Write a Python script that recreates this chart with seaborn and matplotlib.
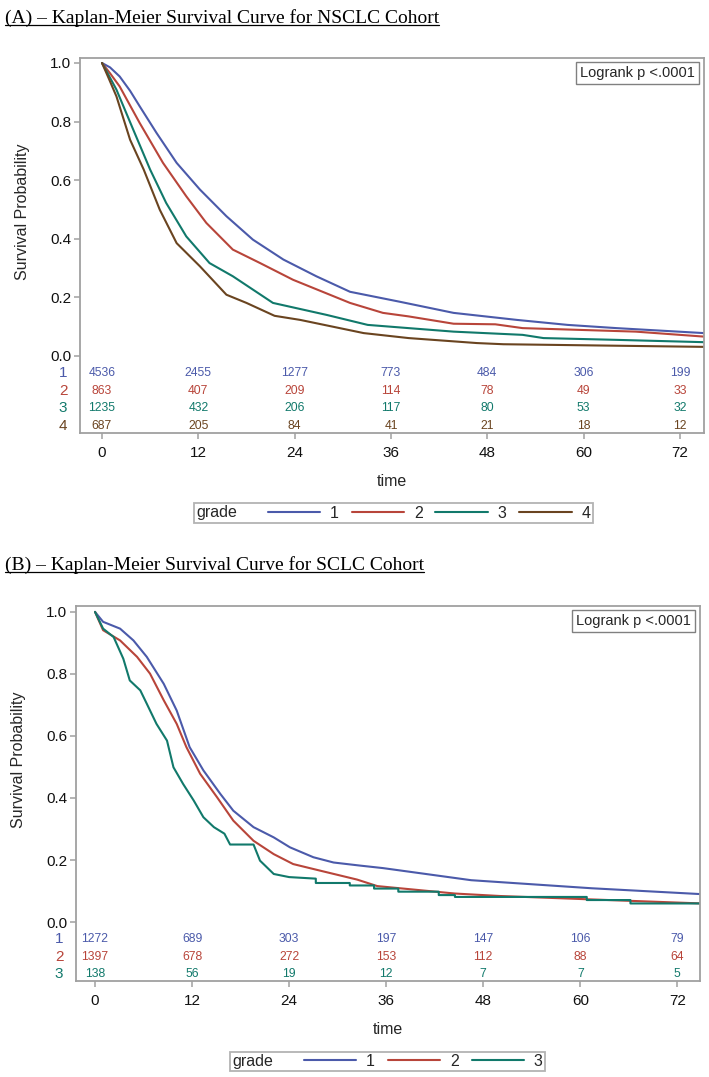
"""
Kaplan-Meier survival curves by grade for the NSCLC (A) and SCLC (B) cohorts,
with number-at-risk table inside the plot frame (SAS-style layout).
"""

import numpy as np
import pandas as pd
import matplotlib
matplotlib.use("Agg")
import matplotlib.pyplot as plt
import matplotlib.transforms as mtransforms
import seaborn as sns
from matplotlib.lines import Line2D
from matplotlib.offsetbox import HPacker

# ── Data ─────────────────────────────────────────────────────────────────────

RISK_TIMES = [0, 12, 24, 36, 48, 60, 72]

# Panel A – NSCLC
A_GRADES = ["1", "2", "3", "4"]

A_G1_TIME = [0, 1.0, 2.2, 3.5, 4.7, 6.8, 9.3, 12.2, 15.5, 18.8, 22.6, 26.7, 30.9, 37.1, 43.8, 51.7, 58.0, 64.1, 75.0]
A_G1_SURV = [1.0, 0.985, 0.954, 0.905, 0.852, 0.761, 0.659, 0.568, 0.477, 0.397, 0.329, 0.272, 0.219, 0.185, 0.147, 0.123, 0.106, 0.095, 0.078]

A_G2_TIME = [0, 1.0, 2.2, 4.7, 7.6, 10.5, 13.0, 16.3, 19.7, 23.8, 30.9, 35.0, 38.2, 43.8, 49.0, 52.4, 66.5, 75.0]
A_G2_SURV = [1.0, 0.965, 0.920, 0.795, 0.659, 0.545, 0.454, 0.363, 0.317, 0.260, 0.181, 0.147, 0.135, 0.110, 0.108, 0.095, 0.083, 0.066]

A_G3_TIME = [0, 0.8, 1.8, 3.9, 6.0, 8.0, 10.5, 13.4, 16.3, 21.3, 28.0, 33.1, 38.2, 43.8, 52.4, 55.0, 64.0, 75.0]
A_G3_SURV = [1.0, 0.960, 0.909, 0.772, 0.636, 0.522, 0.408, 0.317, 0.272, 0.181, 0.140, 0.106, 0.095, 0.083, 0.072, 0.061, 0.055, 0.047]

A_G4_TIME = [0, 0.8, 1.8, 3.5, 5.2, 7.2, 9.3, 12.2, 15.5, 18.0, 21.5, 24.7, 32.6, 38.2, 46.7, 50.0, 75.0]
A_G4_SURV = [1.0, 0.950, 0.886, 0.738, 0.636, 0.499, 0.385, 0.306, 0.209, 0.181, 0.137, 0.123, 0.078, 0.061, 0.044, 0.040, 0.031]

A_RISK_G1 = [4536, 2455, 1277, 773, 484, 306, 199]
A_RISK_G2 = [863, 407, 209, 114, 78, 49, 33]
A_RISK_G3 = [1235, 432, 206, 117, 80, 53, 32]
A_RISK_G4 = [687, 205, 84, 41, 21, 18, 12]

# Panel B – SCLC
B_GRADES = ["1", "2", "3"]

B_G1_TIME = [0, 1.0, 3.1, 4.75, 6.4, 8.5, 10.1, 11.7, 13.4, 15.5, 17.1, 19.6, 22.1, 24.1, 27.0, 29.5, 32.8, 35.6, 46.5, 61.4, 75.0]
B_G1_SURV = [1.0, 0.968, 0.946, 0.908, 0.855, 0.768, 0.682, 0.564, 0.489, 0.413, 0.359, 0.306, 0.273, 0.241, 0.209, 0.192, 0.182, 0.174, 0.135, 0.109, 0.090]

B_G2_TIME = [0, 1.0, 3.1, 5.2, 6.8, 8.5, 10.1, 11.3, 13.0, 15.1, 17.1, 19.6, 22.1, 24.5, 27.8, 32.4, 34.9, 44.5, 50.1, 61.4, 75.0]
B_G2_SURV = [1.0, 0.941, 0.908, 0.855, 0.801, 0.715, 0.639, 0.564, 0.478, 0.402, 0.327, 0.262, 0.219, 0.187, 0.166, 0.137, 0.116, 0.092, 0.084, 0.073, 0.060]

B_G3_TIME = [0, 1.0, 2.3, 3.5, 4.3, 5.6, 6.4, 7.6, 8.9, 9.7, 10.9, 12.2, 13.4, 14.7, 16.0, 16.7, 19.6,
             20.4, 22.1, 24.0, 27.3, 27.3, 31.5, 31.5, 34.5, 34.5, 37.5, 37.5, 42.5, 42.5, 44.5, 44.5,
             60.8, 60.8, 66.2, 66.2, 75.0]
B_G3_SURV = [1.0, 0.946, 0.919, 0.849, 0.779, 0.747, 0.704, 0.639, 0.585, 0.499, 0.445, 0.392, 0.338, 0.306, 0.285, 0.250, 0.250,
             0.198, 0.155, 0.145, 0.140, 0.126, 0.126, 0.118, 0.118, 0.108, 0.108, 0.098, 0.098, 0.087, 0.087, 0.081,
             0.081, 0.071, 0.071, 0.060, 0.060]

B_RISK_G1 = [1272, 689, 303, 197, 147, 106, 79]
B_RISK_G2 = [1397, 678, 272, 153, 112, 88, 64]
B_RISK_G3 = [138, 56, 19, 12, 7, 7, 5]

# ── Style ────────────────────────────────────────────────────────────────────

COLORS = ["#4B5AAA", "#B8453A", "#11796B", "#6A4420"]
FRAME = "#A0A0A0"
SANS = ["Liberation Sans", "DejaVu Sans"]
NARROW = ["Liberation Sans Narrow", "Liberation Sans", "DejaVu Sans"]
SERIF = ["Liberation Serif", "DejaVu Serif"]

sns.set_theme(style="white")
plt.rcParams["font.family"] = SANS

W, H = 709, 1077


def draw_panel(ax, grades, curves, risk, risk_y, xlim, ylim):
    frames = [pd.DataFrame({"time": t, "surv": s, "grade": g})
              for g, (t, s) in zip(grades, curves)]
    df = pd.concat(frames, ignore_index=True)
    pal = dict(zip(grades, COLORS))
    sns.lineplot(data=df, x="time", y="surv", hue="grade", palette=pal,
                 estimator=None, sort=False, lw=1.5, legend=False, ax=ax)

    ax.set_xlim(*xlim)
    ax.set_ylim(*ylim)
    ax.set_xticks(RISK_TIMES)
    ax.set_yticks([0.0, 0.2, 0.4, 0.6, 0.8, 1.0])
    ax.set_yticklabels([f"{v:.1f}" for v in ax.get_yticks()])

    # at-risk table inside the frame
    blend = mtransforms.blended_transform_factory(ax.transAxes, ax.transData)
    for g, counts, yy, c in zip(grades, risk, risk_y, COLORS):
        for tt, n in zip(RISK_TIMES, counts):
            ax.text(tt, yy, str(n), color=c, ha="center", va="center",
                    fontsize=8.7, family=NARROW)
        ax.text(-0.027, yy, g, transform=blend, color=c, ha="center",
                va="center", fontsize=11)

    for s in ax.spines.values():
        s.set_color(FRAME)
        s.set_linewidth(1.3)
    ax.tick_params(axis="both", direction="out", bottom=True, left=True,
                   color=FRAME, width=1.1, length=4.3, labelcolor="#111111")
    ax.tick_params(axis="x", labelsize=11, pad=5)
    ax.tick_params(axis="y", labelsize=11, pad=2)

    ax.set_xlabel("time", fontsize=11.5)
    ax.xaxis.set_label_coords(0.5, -0.109)
    ax.set_ylabel("Survival Probability", fontsize=11.5)
    ax.yaxis.set_label_coords(-0.080, 0.59)

    ax.text(0.9856, 0.979, "Logrank p <.0001", transform=ax.transAxes,
            ha="right", va="top", fontsize=10.5,
            bbox=dict(boxstyle="square,pad=0.25", fc="white", ec="#808080", lw=1.0))


def add_legend(fig, ax, grades, cx, cy):
    handles = [Line2D([], [], color=c, lw=1.5) for c in COLORS[:len(grades)]]
    leg = ax.legend(handles, grades, title="grade", ncol=len(grades),
                    loc="center", bbox_to_anchor=(cx, cy), bbox_transform=fig.transFigure,
                    frameon=True, fancybox=False, edgecolor=FRAME,
                    fontsize=11.5, title_fontsize=11.5, handlelength=3.3,
                    handletextpad=0.6, columnspacing=0.8, borderpad=0.15,
                    borderaxespad=0)
    leg.get_frame().set_linewidth(1.3)
    # put the "grade" title to the left of the entries
    box = leg.get_children()[0]
    title_box, handle_box = box.get_children()[:2]
    hp = HPacker(children=[title_box, handle_box], pad=0, sep=22, align="center")
    hp.set_figure(fig)
    box._children = [hp]


def add_title(fig, text, ypix):
    t = fig.text(5 / W, 1 - ypix / H, text, family=SERIF, fontsize=14,
                 ha="left", va="center", color="black")
    fig.canvas.draw()
    bb = t.get_window_extent(fig.canvas.get_renderer())
    bb = bb.transformed(fig.transFigure.inverted())
    yline = bb.y0 + 1.5 / H
    fig.add_artist(Line2D([bb.x0, bb.x1], [yline, yline], color="black",
                          lw=0.9, transform=fig.transFigure))


# ── Figure ───────────────────────────────────────────────────────────────────

fig = plt.figure(figsize=(W / 100, H / 100), dpi=100)
fig.patch.set_facecolor("white")

axA = fig.add_axes([80 / W, 1 - 433 / H, 624 / W, 375 / H])
draw_panel(axA, A_GRADES,
           [(A_G1_TIME, A_G1_SURV), (A_G2_TIME, A_G2_SURV),
            (A_G3_TIME, A_G3_SURV), (A_G4_TIME, A_G4_SURV)],
           [A_RISK_G1, A_RISK_G2, A_RISK_G3, A_RISK_G4],
           [-0.058, -0.120, -0.177, -0.239],
           (-2.74, 75.0), (-0.263, 1.017))
add_legend(fig, axA, A_GRADES, 393.5 / W, 1 - 513 / H)

axB = fig.add_axes([76 / W, 1 - 981 / H, 624 / W, 375 / H])
draw_panel(axB, B_GRADES,
           [(B_G1_TIME, B_G1_SURV), (B_G2_TIME, B_G2_SURV), (B_G3_TIME, B_G3_SURV)],
           [B_RISK_G1, B_RISK_G2, B_RISK_G3],
           [-0.055, -0.113, -0.168],
           (-2.35, 74.8), (-0.190, 1.019))
add_legend(fig, axB, B_GRADES, 387.5 / W, 1 - 1061.5 / H)

add_title(fig, "(A) \u2013 Kaplan-Meier Survival Curve for NSCLC Cohort", 18)
add_title(fig, "(B) \u2013 Kaplan-Meier Survival Curve for SCLC Cohort", 565)

fig.savefig("out.png", dpi=100)
plt.close(fig)
